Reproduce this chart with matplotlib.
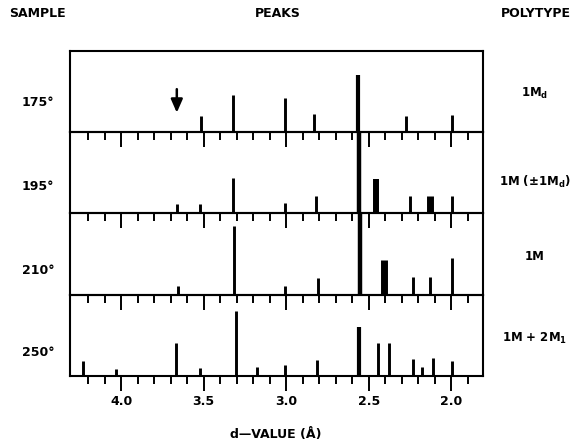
import matplotlib
matplotlib.use("Agg")
import matplotlib.pyplot as plt
from matplotlib.ticker import MultipleLocator, FixedLocator

# sample temperatures and polytype of each run
samples = ["175°", "195°", "210°", "250°"]
polytypes = [r"1M$_{\mathbf{d}}$", r"1M (±1M$_{\mathbf{d}}$)", "1M", r"1M + 2M$_{\mathbf{1}}$"]

# peak positions (d, in Angstrom) and heights (arbitrary units, panel = 81)
d_175 = [3.515, 3.324, 3.006, 2.829, 2.566, 2.273, 1.994]
h_175 = [15.7, 36.7, 34.4, 18.4, 57.0, 15.7, 16.7]

d_195 = [3.663, 3.525, 3.324, 3.010, 2.818, 2.560, 2.455, 2.253, 2.132, 1.994]
h_195 = [9.3, 9.3, 35.0, 10.0, 17.3, 120.0, 34.6, 17.3, 17.3, 17.3]

d_210 = [3.657, 3.318, 3.006, 2.808, 2.556, 2.410, 2.233, 2.132, 1.996]
h_210 = [8.3, 68.3, 9.0, 16.7, 120.0, 35.0, 17.3, 17.3, 36.7]

d_250 = [4.229, 4.030, 3.667, 3.521, 3.307, 3.178, 3.006, 2.812, 2.562,
         2.445, 2.378, 2.233, 2.176, 2.111, 1.994]
h_250 = [15.3, 7.3, 32.7, 8.3, 64.3, 9.3, 11.0, 16.0, 49.3,
         32.7, 32.7, 17.3, 8.7, 17.7, 15.3]

# missing reflection marked by an arrow in the 175 deg pattern
arrow_d = 3.663
arrow_top, arrow_tip = 45.7, 16.7

# minor tick marks, every 0.1 A from 4.2 down to 1.9
minor_ticks = [4.2, 4.1, 4.0, 3.9, 3.8, 3.7, 3.6, 3.5, 3.4, 3.3, 3.2, 3.1,
               3.0, 2.9, 2.8, 2.7, 2.6, 2.5, 2.4, 2.3, 2.2, 2.1, 2.0, 1.9]

peaks = [(d_175, h_175), (d_195, h_195), (d_210, h_210), (d_250, h_250)]

# broad reflections are drawn wider (d value -> line width in pt)
broad = [{2.566: 3.0},
         {2.560: 3.2, 2.455: 4.3, 2.132: 5.0},
         {2.556: 3.2, 2.410: 5.0},
         {2.562: 3.0}]

# label centres in pixels from the top of the figure
sample_px = [103, 186, 270, 353]
polytype_px = [93, 182, 257, 338]

plt.rcParams['font.family'] = ['DejaVu Sans']
plt.rcParams['font.weight'] = 'bold'
plt.rcParams['mathtext.default'] = 'bf'

fig, axes = plt.subplots(4, 1, figsize=(5.77, 4.41), dpi=100, sharex=True)
fig.subplots_adjust(left=0.1213, right=0.8366, top=0.8844, bottom=0.1474, hspace=0)

for i, ax in enumerate(axes):
    ax.set_facecolor('none')
    d, h = peaks[i]
    for x, y in zip(d, h):
        lw = broad[i].get(x, 2.1)
        ax.vlines(x, 0, y, color='black', linewidth=lw, capstyle='butt')
    ax.set_xlim(4.31, 1.81)
    ax.set_ylim(0, 81)
    ax.set_yticks([])
    for s in ax.spines.values():
        s.set_linewidth(1.5)
    ax.xaxis.set_major_locator(MultipleLocator(0.5))
    ax.xaxis.set_minor_locator(FixedLocator(minor_ticks))
    # ticks hang below each baseline, into the panel underneath
    ax.tick_params(axis='x', which='major', length=11, width=1.4, direction='out',
                   top=False, bottom=True, labelbottom=(i == 3), labelsize=9, pad=3)
    ax.tick_params(axis='x', which='minor', length=5.5, width=1.4, direction='out',
                   top=False, bottom=True)
    fig.text(0.038, 1 - sample_px[i] / 441, samples[i],
             ha='left', va='center', fontsize=9, fontweight='bold')
    fig.text(0.927, 1 - polytype_px[i] / 441, polytypes[i],
             ha='center', va='center', fontsize=8.5, fontweight='bold')

for lab in axes[3].get_xticklabels():
    lab.set_fontweight('bold')

axes[0].annotate('', xy=(arrow_d, arrow_tip), xytext=(arrow_d, arrow_top),
                 arrowprops=dict(arrowstyle='-|>,head_width=0.35,head_length=0.8',
                                 color='black', lw=1.8))

fig.text(0.015, 0.97, "SAMPLE", ha='left', va='center', fontsize=9, fontweight='heavy')
fig.text(0.482, 0.97, "PEAKS", ha='center', va='center', fontsize=9, fontweight='heavy')
fig.text(0.99, 0.97, "POLYTYPE", ha='right', va='center', fontsize=9, fontweight='heavy')
fig.text(0.478, 0.015, "d—VALUE (Å)", ha='center', va='center', fontsize=9, fontweight='heavy')

fig.savefig("out.png", dpi=100)
